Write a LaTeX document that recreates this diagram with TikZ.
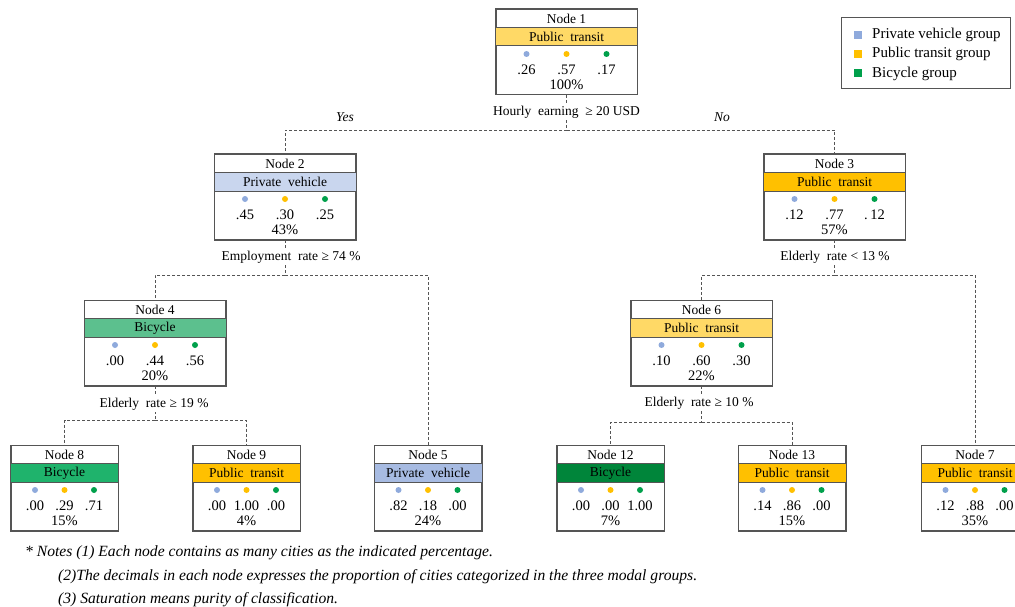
\documentclass[tikz,border=0pt]{standalone}
\usepackage{fontspec}
\setmainfont{Liberation Serif}
\usetikzlibrary{calc}
\definecolor{cpv}{HTML}{8FAADC}
\definecolor{cpt}{HTML}{FFC000}
\definecolor{cbc}{HTML}{00A04B}
\definecolor{pvlight}{HTML}{C9D6EE}
\definecolor{pvmid}{HTML}{A7BBE2}
\definecolor{ptlight}{HTML}{FFD966}
\definecolor{ptfull}{HTML}{FFC000}
\definecolor{bclight}{HTML}{5CC08E}
\definecolor{bcmid}{HTML}{1FB36C}
\definecolor{bcdark}{HTML}{00853A}
\definecolor{edgegray}{HTML}{555555}
\tikzset{
  tbox/.style={draw=edgegray, line width=1pt, fill=white, minimum height=85, inner sep=0pt},
  edge/.style={draw=edgegray, line width=1pt},
  conn/.style={draw=edgegray, line width=0.8pt, dash pattern=on 3pt off 2pt},
  txt/.style={inner sep=0pt, font=\fontsize{13.5}{13.5}\selectfont},
  val/.style={inner sep=0pt, font=\fontsize{14.5}{14.5}\selectfont},
  cond/.style={inner sep=1.5pt, fill=white, font=\fontsize{13.5}{13.5}\selectfont},
  yesno/.style={inner sep=0pt, font=\fontsize{13.5}{13.5}\selectfont\itshape},
  note/.style={inner sep=0pt, anchor=west, font=\fontsize{15.6}{15.6}\selectfont\itshape},
  legtxt/.style={inner sep=0pt, anchor=west, font=\fontsize{15}{15}\selectfont}
}
\newcommand\treebox[9]{%
  \node[tbox, minimum width=\nw, anchor=north] (n#1) at (#2,#3) {};
  \fill[#5] ($(n#1.north west)+(0,18.5)$) rectangle ($(n#1.north east)+(0,37)$);
  \draw[edge] ($(n#1.north west)+(0,18.5)$) -- ($(n#1.north east)+(0,18.5)$);
  \draw[edge] ($(n#1.north west)+(0,37)$) -- ($(n#1.north east)+(0,37)$);
  \node[txt] at ($(n#1.north)+(0,9.5)$) {Node #1};
  \node[txt] at ($(n#1.north)+(0,28)$) {#4};
  \fill[cpv] ($(n#1.north)+(-\ns,45)$) circle (3);
  \fill[cpt] ($(n#1.north)+(0,45)$) circle (3);
  \fill[cbc] ($(n#1.north)+(\ns,45)$) circle (3);
  \node[val] at ($(n#1.north)+(-\ns,61)$) {#6};
  \node[val] at ($(n#1.north)+(0,61)$) {#7};
  \node[val] at ($(n#1.north)+(\ns,61)$) {#8};
  \node[val] at ($(n#1.north)+(0,76)$) {#9};
  \draw[edge] (n#1.north west) rectangle (n#1.south east);
}
\begin{document}
\begin{tikzpicture}[x=1pt,y=-1pt]
\clip (0,0) rectangle (1015,607);
\fill[white] (0,0) rectangle (1015,607);
% big nodes
\def\nw{141}\def\ns{40}
\treebox{1}{566.5}{9}{Public\ \ transit}{ptlight}{.26}{.57}{.17}{100\%}
\treebox{2}{285}{154}{Private\ \ vehicle}{pvlight}{.45}{.30}{.25}{43\%}
\treebox{3}{834.5}{154}{Public\ \ transit}{ptfull}{.12}{.77}{.\,12}{57\%}
\treebox{4}{155}{300}{Bicycle}{bclight}{.00}{.44}{.56}{20\%}
\treebox{6}{701.5}{300}{Public\ \ transit}{ptlight}{.10}{.60}{.30}{22\%}
% small nodes
\def\nw{107}\def\ns{29.5}
\treebox{8}{64.5}{445}{Bicycle}{bcmid}{.00}{.29}{.71}{15\%}
\treebox{9}{246.5}{445}{Public\ \ transit}{ptfull}{.00}{1.00}{.00}{4\%}
\treebox{5}{428}{445}{Private\ \ vehicle}{pvmid}{.82}{.18}{.00}{24\%}
\treebox{12}{610.5}{445}{Bicycle}{bcdark}{.00}{.00}{1.00}{7\%}
\treebox{13}{792}{445}{Public\ \ transit}{ptfull}{.14}{.86}{.00}{15\%}
\treebox{7}{975}{445}{Public\ \ transit}{ptfull}{.12}{.88}{.00}{35\%}
% connectors
\coordinate (j1) at (566.5,130);
\coordinate (j2) at (285,275);
\coordinate (j3) at (834.5,275);
\coordinate (j4) at (155,420);
\coordinate (j6) at (701.5,422);
\draw[conn] (n1.south) -- (j1);
\draw[conn] (j1) -| (n2.north);
\draw[conn] (j1) -| (n3.north);
\draw[conn] (n2.south) -- (j2);
\draw[conn] (j2) -| (n4.north);
\draw[conn] (j2) -| (n5.north);
\draw[conn] (n3.south) -- (j3);
\draw[conn] (j3) -| (n6.north);
\draw[conn] (j3) -| (n7.north);
\draw[conn] (n4.south) -- (j4);
\draw[conn] (j4) -| (n8.north);
\draw[conn] (j4) -| (n9.north);
\draw[conn] (n6.south) -- (j6);
\draw[conn] (j6) -| (n12.north);
\draw[conn] (j6) -| (n13.north);
% condition labels
\node[cond] (c1) at (566.5,112) {Hourly\ \ earning \ ≥ 20 USD};
\node[cond] (c2) at (291,257) {Employment\ \ rate ≥ 74 \%};
\node[cond] (c3) at (835,257) {Elderly\ \ rate < 13 \%};
\node[cond] (c4) at (154,404) {Elderly\ \ rate ≥ 19 \%};
\node[cond] (c6) at (699,403) {Elderly\ \ rate ≥ 10 \%};
\node[yesno] (yes) at (345,117) {Yes};
\node[yesno] (no) at (722,117) {No};
% legend
\node[draw=edgegray, line width=0.8pt, minimum width=169, minimum height=71, anchor=north west, inner sep=0pt] (leg) at (841,17) {};
\fill[cpv] (854,31) rectangle (862,39);
\fill[cpt] (854,50) rectangle (862,58);
\fill[cbc] (854,69) rectangle (862,77);
\node[legtxt] (l1) at (872,35) {Private vehicle group};
\node[legtxt] (l2) at (872,54) {Public transit group};
\node[legtxt] (l3) at (872,74) {Bicycle group};
% notes
\node[note] (nt1) at (25,553) {* Notes (1) Each node contains as many cities as the indicated percentage.};
\node[note] (nt2) at (58,577) {(2)The decimals in each node expresses the proportion of cities categorized in the three modal groups.};
\node[note] (nt3) at (58,600) {(3) Saturation means purity of classification.};
\end{tikzpicture}
\end{document}
